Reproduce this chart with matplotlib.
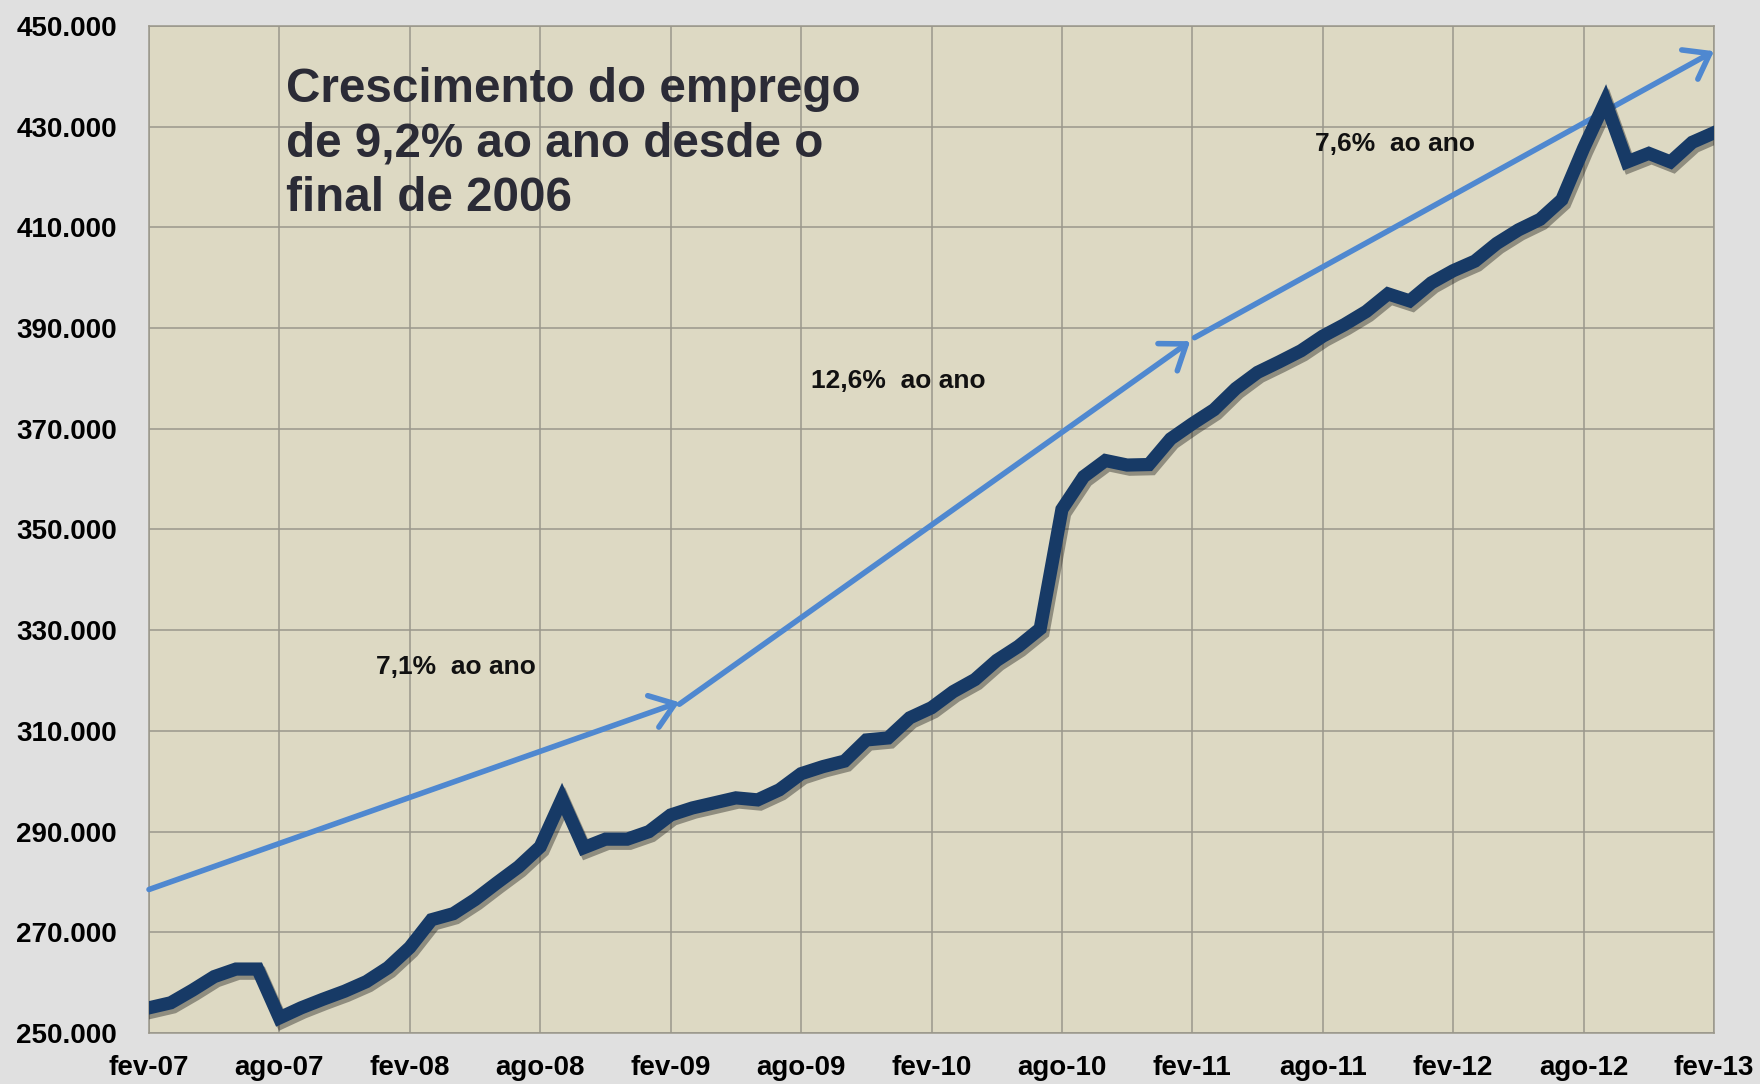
import numpy as np
import matplotlib
matplotlib.use("Agg")
import matplotlib.pyplot as plt
import matplotlib.patheffects as pe
from matplotlib.ticker import FuncFormatter

plt.rcParams['font.family'] = ['Liberation Sans', 'DejaVu Sans']

# monthly employment, fev-07 .. fev-13
emprego = [
    255000, 256000, 258500, 261200, 262700, 262700, 253000, 255000, 256700, 258300,
    260200, 263000, 267000, 272500, 273700, 276500, 279800, 283000, 287000, 296500,
    286800, 288500, 288500, 290000, 293300, 294700, 295700, 296700, 296300, 298300,
    301500, 302900, 304000, 308200, 308600, 312600, 314600, 317800, 320200, 324000,
    326800, 330300, 354000, 360500, 363700, 362800, 362900, 368000, 371000, 373800,
    378000, 381200, 383300, 385500, 388400, 390700, 393300, 396800, 395400, 399000,
    401400, 403300, 406800, 409500, 411600, 415500, 425700, 435000, 423000, 424700,
    423000, 426900, 428800,
]
tick_labels = ["fev-07", "ago-07", "fev-08", "ago-08", "fev-09", "ago-09", "fev-10",
               "ago-10", "fev-11", "ago-11", "fev-12", "ago-12", "fev-13"]

# trend arrows (month index, value)
trend_start = [(0, 278500), (24.4, 315300), (48.1, 388100)]
trend_end = [(24.4, 315700), (47.9, 387400), (72, 445000)]
trend_labels = ["7,1%  ao ano", "12,6%  ao ano", "7,6%  ao ano"]
label_pos = [(10.45, 322600), (30.47, 379400), (53.65, 426600)]

titulo = "Crescimento do emprego\nde 9,2% ao ano desde o\nfinal de 2006"

fig = plt.figure(figsize=(17.6, 10.84), dpi=100)
fig.patch.set_facecolor("#e0e0e0")
ax = fig.add_axes([149 / 1760, 51 / 1084, 1565 / 1760, 1007 / 1084])
ax.set_facecolor("#ddd9c3")

x = np.arange(len(emprego))
ax.plot(x, emprego, color="#173a66", lw=9.5, solid_joinstyle="miter", zorder=4,
        path_effects=[pe.SimpleLineShadow(offset=(2, -3), alpha=0.35), pe.Normal()])

for (x0, y0), (x1, y1) in zip(trend_start, trend_end):
    ax.annotate("", xy=(x1, y1), xytext=(x0, y0), zorder=3,
                arrowprops=dict(arrowstyle="->,head_length=0.55,head_width=0.4",
                                color="#4f88d0", lw=4, mutation_scale=30,
                                shrinkA=0, shrinkB=0))

for txt, (tx, ty) in zip(trend_labels, label_pos):
    ax.text(tx, ty, txt, fontsize=19, fontweight="bold", color="#111111",
            ha="left", va="center", zorder=5)

ax.text(6.3, 441900, titulo, fontsize=34.3, fontweight="bold", color="#2b2b36",
        ha="left", va="top", linespacing=1.28, zorder=5)

ax.set_xlim(0, 72)
ax.set_ylim(250000, 450000)
ax.set_xticks(np.arange(0, 73, 6))
ax.set_xticklabels(tick_labels)
ax.set_yticks(np.arange(250000, 450001, 20000))
ax.yaxis.set_major_formatter(FuncFormatter(lambda v, p: f"{int(v):,}".replace(",", ".")))
ax.tick_params(axis="both", length=0, labelsize=20)
ax.tick_params(axis="y", pad=23)
ax.tick_params(axis="x", pad=16)
for lab in ax.get_xticklabels() + ax.get_yticklabels():
    lab.set_fontweight("bold")

ax.grid(True, color="#9a978b", lw=1.1)
ax.set_axisbelow(True)
for sp in ax.spines.values():
    sp.set_color("#9a978b")
    sp.set_linewidth(1.1)

fig.savefig("out.png", dpi=100)
